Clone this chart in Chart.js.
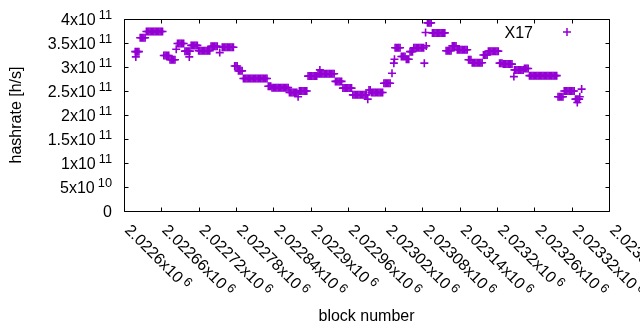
<!DOCTYPE html>
<html><head><meta charset="utf-8">
<script src="https://cdn.jsdelivr.net/npm/chart.js@4/dist/chart.umd.min.js"></script>
<style>html,body{margin:0;padding:0;background:#fff}#wrap{width:640px;height:330px}</style>
</head><body><div id="wrap"><canvas id="c" width="640" height="330"></canvas></div>
<script>
const seriesLabel = 'X17';
const xTitle = 'block number';
const yTitle = 'hashrate [h/s]';
const xMin = 2022600, xMax = 2023380, xStep = 60;
const yMin = 0, yMax = 4e11, yStep = 5e10;

const blocks = [
2022618,2022620,2022622,2022624,
2022619,
2022626,2022628,2022630,2022632,2022634,
2022636,2022638,2022640,2022642,2022644,2022646,2022648,2022650,2022652,2022654,2022656,2022658,2022660,2022662,
2022664,2022666,2022668,2022670,2022672,
2022674,2022676,2022678,2022680,2022682,
2022684,
2022686,2022688,2022690,2022692,2022694,2022696,
2022698,2022700,2022702,2022704,2022706,
2022705,
2022708,2022710,2022712,2022714,2022716,2022718,
2022720,2022722,2022724,2022726,2022728,2022730,2022732,2022734,2022736,2022738,
2022740,2022742,2022744,2022746,2022748,2022750,
2022754,
2022758,2022760,2022762,2022764,2022766,2022768,2022770,2022772,2022774,2022776,
2022778,2022780,2022782,
2022784,2022786,2022788,2022790,
2022792,2022794,2022796,2022798,2022800,2022802,2022804,2022806,2022808,2022810,2022812,2022814,2022816,2022818,2022820,2022822,2022824,2022826,2022828,2022830,
2022832,2022834,2022836,
2022838,2022840,2022842,2022844,2022846,2022848,2022850,2022852,2022854,2022856,2022858,2022860,2022862,2022864,
2022866,2022868,2022870,2022872,2022874,2022876,2022878,
2022880,
2022882,2022884,2022886,2022888,2022890,2022892,2022894,
2022896,2022898,2022900,2022902,2022904,2022906,2022908,2022910,
2022912,2022914,2022916,2022918,2022920,2022922,2022924,2022926,2022928,2022930,2022932,2022934,2022936,2022938,
2022915,
2022940,2022942,2022944,2022946,2022948,2022950,
2022952,2022954,2022956,2022958,2022960,2022962,2022964,2022966,
2022968,2022970,2022972,2022974,2022976,2022978,2022980,2022982,2022984,2022986,2022988,2022990,
2022992,
2022994,2022996,
2022998,2023000,2023002,2023004,2023006,2023008,2023010,2023012,2023014,2023016,
2023018,2023020,2023022,2023024,2023026,2023028,
2023031,
2023034,2023035,
2023036,2023038,2023040,2023042,2023044,
2023046,2023048,2023050,2023052,
2023054,2023056,2023058,
2023060,2023062,2023064,
2023066,2023068,2023070,2023072,2023074,2023076,2023078,2023080,2023082,
2023083,2023085,2023086,
2023088,2023090,2023092,2023094,
2023096,2023098,2023100,2023102,2023104,2023106,2023108,2023110,2023112,2023114,2023116,
2023118,2023120,2023122,2023124,2023126,
2023128,2023130,2023132,2023134,
2023136,2023138,2023140,2023142,2023144,2023146,2023148,2023150,2023152,
2023154,2023156,2023158,
2023160,2023162,2023164,2023166,2023168,2023170,2023172,2023174,2023176,
2023178,2023180,2023182,2023184,
2023186,2023188,2023190,2023192,2023194,2023196,2023198,2023200,2023202,
2023204,2023206,2023208,
2023210,2023212,2023214,2023216,2023218,2023220,2023222,2023224,
2023227,
2023228,2023230,2023232,2023234,2023236,2023238,2023240,2023242,
2023244,2023246,2023248,2023250,
2023252,2023254,2023256,2023258,2023260,2023262,2023264,2023266,2023268,2023270,2023272,2023274,2023276,2023278,2023280,2023282,2023284,2023286,2023288,2023290,2023292,2023294,2023296,
2023298,2023300,2023302,2023304,2023306,
2023308,2023310,2023312,2023314,2023316,2023318,2023320,2023322,2023324,
2023326,2023328,2023330,2023332,
2023329,
2023333,2023336
];

const hashrate = [
332e9,332e9,332e9,332e9,
321e9,
361e9,361e9,361e9,361e9,361e9,
374e9,374e9,374e9,374e9,374e9,374e9,374e9,374e9,374e9,374e9,374e9,374e9,374e9,374e9,
324e9,324e9,324e9,324e9,324e9,
315e9,315e9,315e9,315e9,315e9,
337e9,
349e9,349e9,349e9,349e9,349e9,349e9,
333e9,333e9,333e9,333e9,333e9,
321e9,
345e9,345e9,345e9,345e9,345e9,345e9,
334e9,334e9,334e9,334e9,334e9,334e9,334e9,334e9,334e9,334e9,
343e9,343e9,343e9,343e9,343e9,343e9,
330e9,
341e9,341e9,341e9,341e9,341e9,341e9,341e9,341e9,341e9,341e9,
302e9,302e9,302e9,
292e9,292e9,292e9,292e9,
276e9,276e9,276e9,276e9,276e9,276e9,276e9,276e9,276e9,276e9,276e9,276e9,276e9,276e9,276e9,276e9,276e9,276e9,276e9,276e9,
260e9,260e9,260e9,
257e9,257e9,257e9,257e9,257e9,257e9,257e9,257e9,257e9,257e9,257e9,257e9,257e9,257e9,
247e9,247e9,247e9,247e9,247e9,247e9,247e9,
238e9,
250e9,250e9,250e9,250e9,250e9,250e9,250e9,
281e9,281e9,281e9,281e9,281e9,281e9,281e9,281e9,
286e9,286e9,286e9,286e9,286e9,286e9,286e9,286e9,286e9,286e9,286e9,286e9,286e9,286e9,
294e9,
270e9,270e9,270e9,270e9,270e9,270e9,
256e9,256e9,256e9,256e9,256e9,256e9,256e9,256e9,
242e9,242e9,242e9,242e9,242e9,242e9,242e9,242e9,242e9,242e9,242e9,242e9,
233e9,
252e9,252e9,
247e9,247e9,247e9,247e9,247e9,247e9,247e9,247e9,247e9,247e9,
266e9,266e9,266e9,266e9,266e9,266e9,
287e9,
308e9,316e9,
340e9,340e9,340e9,340e9,340e9,
322e9,322e9,322e9,322e9,
316e9,316e9,316e9,
332e9,332e9,332e9,
340e9,340e9,340e9,340e9,340e9,340e9,340e9,340e9,340e9,
308e9,372e9,344e9,
392e9,392e9,392e9,392e9,
371e9,371e9,371e9,371e9,371e9,371e9,371e9,371e9,371e9,371e9,371e9,
334e9,334e9,334e9,334e9,334e9,
344e9,344e9,344e9,344e9,
336e9,336e9,336e9,336e9,336e9,336e9,336e9,336e9,336e9,
315e9,315e9,315e9,
309e9,309e9,309e9,309e9,309e9,309e9,309e9,309e9,309e9,
325e9,325e9,325e9,325e9,
333e9,333e9,333e9,333e9,333e9,333e9,333e9,333e9,333e9,
308e9,308e9,308e9,
306e9,306e9,306e9,306e9,306e9,306e9,306e9,306e9,
280e9,
294e9,294e9,294e9,294e9,294e9,294e9,294e9,294e9,
297e9,297e9,297e9,297e9,
282e9,282e9,282e9,282e9,282e9,282e9,282e9,282e9,282e9,282e9,282e9,282e9,282e9,282e9,282e9,282e9,282e9,282e9,282e9,282e9,282e9,282e9,282e9,
238e9,238e9,238e9,238e9,238e9,
250e9,250e9,250e9,250e9,250e9,250e9,250e9,250e9,250e9,
233e9,233e9,233e9,233e9,
226e9,
238e9,254e9
];

const FONT = "'Liberation Sans', Arial, sans-serif";
const COLOR = '#9400D3';

function sci(v) {
  if (v === 0) return ['0', null];
  const e = Math.floor(Math.log10(Math.abs(v)) + 1e-9);
  const m = parseFloat((v / Math.pow(10, e)).toPrecision(6));
  return [String(m), String(e)];
}

const gnuFrame = {
  id: 'gnuFrame',
  afterDraw(chart) {
    const {ctx, chartArea: a, scales: {x: xs, y: ys}} = chart;
    const L = Math.round(a.left) + 0.5, R = Math.round(a.right) + 0.5;
    const T = Math.round(a.top) + 0.5, B = Math.round(a.bottom) + 0.5;
    const tl = 4;
    ctx.save();
    ctx.strokeStyle = '#000';
    ctx.lineWidth = 1;
    ctx.beginPath();
    ctx.rect(L, T, R - L, B - T);
    xs.ticks.forEach(t => {
      const px = Math.round(xs.getPixelForValue(t.value)) + 0.5;
      ctx.moveTo(px, B); ctx.lineTo(px, B - tl);
      ctx.moveTo(px, T); ctx.lineTo(px, T + tl);
    });
    ys.ticks.forEach(t => {
      const py = Math.round(ys.getPixelForValue(t.value)) + 0.5;
      ctx.moveTo(L, py); ctx.lineTo(L + tl, py);
      ctx.moveTo(R, py); ctx.lineTo(R - tl, py);
    });
    ctx.stroke();

    const mainF = '16px ' + FONT, supF = '12.8px ' + FONT;
    ctx.fillStyle = '#000';
    ctx.textBaseline = 'alphabetic';
    ys.ticks.forEach(t => {
      const y = ys.getPixelForValue(t.value);
      const [m, e] = sci(t.value);
      const xr = a.left - 12;
      ctx.textAlign = 'right';
      if (e === null) { ctx.font = mainF; ctx.fillText(m, xr, y + 5.5); return; }
      ctx.font = supF; ctx.fillText(e, xr, y + 5.5 - 6);
      const w = ctx.measureText(e).width;
      ctx.font = mainF; ctx.fillText(m + 'x10', xr - w - 3, y + 5.5);
    });
    xs.ticks.forEach(t => {
      const x = xs.getPixelForValue(t.value);
      const [m, e] = sci(t.value);
      ctx.save();
      ctx.translate(x, a.bottom + 20);
      ctx.rotate(Math.PI / 4);
      ctx.textAlign = 'left';
      ctx.font = mainF;
      const s = m + 'x10';
      ctx.fillText(s, 0, 0);
      const w = ctx.measureText(s).width;
      ctx.font = supF;
      ctx.fillText(e, w + 3, -5);
      ctx.restore();
    });
    const ds = chart.data.datasets[0];
    const ky = a.top + 13;
    ctx.font = mainF; ctx.textAlign = 'right';
    ctx.fillText(ds.label, a.right - 76, ky + 5.5);
    const kx = a.right - 42;
    ctx.strokeStyle = ds.borderColor; ctx.lineWidth = 1.5;
    ctx.beginPath();
    ctx.moveTo(kx - 4, ky); ctx.lineTo(kx + 4, ky);
    ctx.moveTo(kx, ky - 4); ctx.lineTo(kx, ky + 4);
    ctx.stroke();
    ctx.restore();
  }
};

const points = blocks.map((b, i) => ({x: b, y: hashrate[i]}));

new Chart(document.getElementById('c'), {
  type: 'scatter',
  data: {datasets: [{
    label: seriesLabel, data: points,
    pointStyle: 'cross', pointRadius: 4, pointHoverRadius: 4,
    borderWidth: 1.6, pointBorderWidth: 1.6,
    borderColor: COLOR, backgroundColor: COLOR, pointBorderColor: COLOR
  }]},
  options: {
    responsive: false, animation: false, events: [],
    layout: {padding: {left: 0, top: 19, right: 31, bottom: 4}},
    plugins: {legend: {display: false}, tooltip: {enabled: false}},
    scales: {
      x: {type: 'linear', min: xMin, max: xMax,
          grid: {display: false, drawTicks: false}, border: {display: false},
          ticks: {display: false, stepSize: xStep},
          title: {display: true, text: xTitle, color: '#000', font: {family: FONT, size: 16, lineHeight: 1.2}, padding: {top: 95.8, bottom: 0}}},
      y: {type: 'linear', min: yMin, max: yMax,
          grid: {display: false, drawTicks: false}, border: {display: false},
          ticks: {display: false, stepSize: yStep},
          title: {display: true, text: yTitle, color: '#000', font: {family: FONT, size: 16, lineHeight: 1.2}, padding: {top: 7.4, bottom: 97.4}}}
    }
  },
  plugins: [gnuFrame]
});
</script></body></html>
